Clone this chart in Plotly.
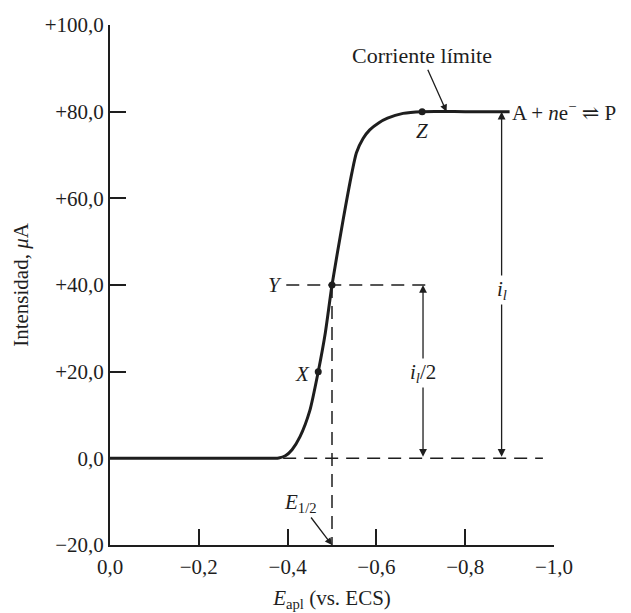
import plotly.graph_objects as go

# Polarographic wave: applied potential (V vs. ECS) and current (µA)
potential = [0.0, -0.2, -0.35, -0.38, -0.395, -0.41, -0.428, -0.45, -0.469, -0.485,
             -0.50, -0.525, -0.545, -0.555, -0.57, -0.585, -0.605, -0.625, -0.66,
             -0.703, -0.80, -0.90]
current = [0, 0, 0, 0.1, 0.6, 2.0, 5, 11, 20, 29,
           40, 55, 66, 70.5, 73.8, 75.8, 77.4, 78.5, 79.6,
           80, 80, 80]

# Marked points on the wave
point_names = ["X", "Y", "Z"]
point_E = [-0.469, -0.50, -0.703]
point_i = [20, 40, 80]

E_half = -0.50          # half-wave potential
i_limit = 80            # limiting current
wave_start = -0.39      # potential where the current begins to rise

x_ticks = [0.0, -0.2, -0.4, -0.6, -0.8, -1.0]
x_ticktext = ["0,0", "−0,2", "−0,4", "−0,6", "−0,8", "−1,0"]
y_ticks = [100, 80, 60, 40, 20, 0, -20]
y_ticktext = ["+100,0", "+80,0", "+60,0", "+40,0", "+20,0", "0,0", "−20,0"]

INK = "#1e1e1e"
FONT = "Liberation Serif, Times New Roman, DejaVu Serif, serif"
FS = 21
DASH = "13px,8px"

fig = go.Figure()

# Guide lines (dashed)
fig.add_trace(go.Scatter(x=[wave_start, -0.975], y=[0, 0], mode="lines",
                         line=dict(color=INK, width=1.5, dash=DASH),
                         hoverinfo="skip", showlegend=False))
fig.add_trace(go.Scatter(x=[-0.397, -0.727], y=[i_limit / 2, i_limit / 2], mode="lines",
                         line=dict(color=INK, width=1.5, dash=DASH),
                         hoverinfo="skip", showlegend=False))
fig.add_trace(go.Scatter(x=[E_half, E_half], y=[i_limit / 2, -20], mode="lines",
                         line=dict(color=INK, width=1.5, dash=DASH),
                         hoverinfo="skip", showlegend=False))

# The wave itself
fig.add_trace(go.Scatter(x=potential, y=current, mode="lines",
                         line=dict(color=INK, width=3, shape="spline", smoothing=0.6),
                         hoverinfo="skip", showlegend=False))

# X, Y, Z dots
fig.add_trace(go.Scatter(x=point_E, y=point_i, mode="markers",
                         marker=dict(color=INK, size=7),
                         hoverinfo="skip", showlegend=False))

annotations = []

# Double-headed arrows for i_l and i_l/2
for ex, top in [(-0.882, i_limit), (-0.705, i_limit / 2)]:
    annotations.append(dict(x=ex, y=top, ax=ex, ay=0, xref="x", yref="y",
                            axref="x", ayref="y", text="", showarrow=True,
                            arrowhead=2, startarrowhead=2, arrowside="end+start",
                            arrowsize=1.2, startarrowsize=1.2, arrowwidth=1.3,
                            arrowcolor=INK))

label_font = dict(family=FONT, size=FS, color=INK)

annotations += [
    dict(x=-0.882, y=38.8, text="<i>i</i><sub><i>l</i></sub>", showarrow=False,
         bgcolor="white", font=label_font, borderpad=1),
    dict(x=-0.705, y=19.7, text="<i>i</i><sub><i>l</i></sub>/2", showarrow=False,
         bgcolor="white", font=label_font, borderpad=1),
    dict(x=-0.371, y=40, text="<i>Y</i>", showarrow=False, font=label_font),
    dict(x=-0.456, y=19.5, text="<i>X</i>", showarrow=False, xanchor="right",
         font=label_font),
    dict(x=-0.702, y=75.5, text="<i>Z</i>", showarrow=False, font=label_font),
    dict(x=-0.902, y=i_limit, text="A + <i>n</i>e<sup>−</sup> ⇌ P", showarrow=False,
         xanchor="left", font=label_font),
    dict(x=-0.758, y=i_limit, text="Corriente límite", showarrow=True,
         ax=-25, ay=-56, arrowhead=2, arrowsize=1.1, arrowwidth=1.3,
         arrowcolor=INK, font=dict(family=FONT, size=22, color=INK)),
    dict(x=E_half, y=-20, text="<i>E</i><sub>1/2</sub>", showarrow=True,
         ax=-32, ay=-42, arrowhead=2, arrowsize=1.1, arrowwidth=1.3,
         arrowcolor=INK, font=label_font),
]

axis_common = dict(showgrid=False, zeroline=False, showline=True, linecolor=INK,
                   linewidth=2, ticks="inside", ticklen=16, tickwidth=2,
                   tickcolor=INK, tickfont=dict(family=FONT, size=FS, color=INK),
                   automargin=False)

fig.update_layout(
    width=631, height=613,
    margin=dict(l=110, r=77, t=25, b=68),
    paper_bgcolor="white", plot_bgcolor="white",
    annotations=annotations,
    xaxis=dict(range=[0, -1.0], tickvals=x_ticks, ticktext=x_ticktext,
               ticklabelstandoff=2,
               title=dict(text="<i>E</i><sub>apl</sub> (vs. ECS)",
                          font=dict(family=FONT, size=FS, color=INK), standoff=12),
               **axis_common),
    yaxis=dict(range=[-20, 100], tickvals=y_ticks, ticktext=y_ticktext,
               title=dict(text="Intensidad, <i>μ</i>A",
                          font=dict(family=FONT, size=FS, color=INK), standoff=10),
               **axis_common),
)

fig.write_html("out.html")
